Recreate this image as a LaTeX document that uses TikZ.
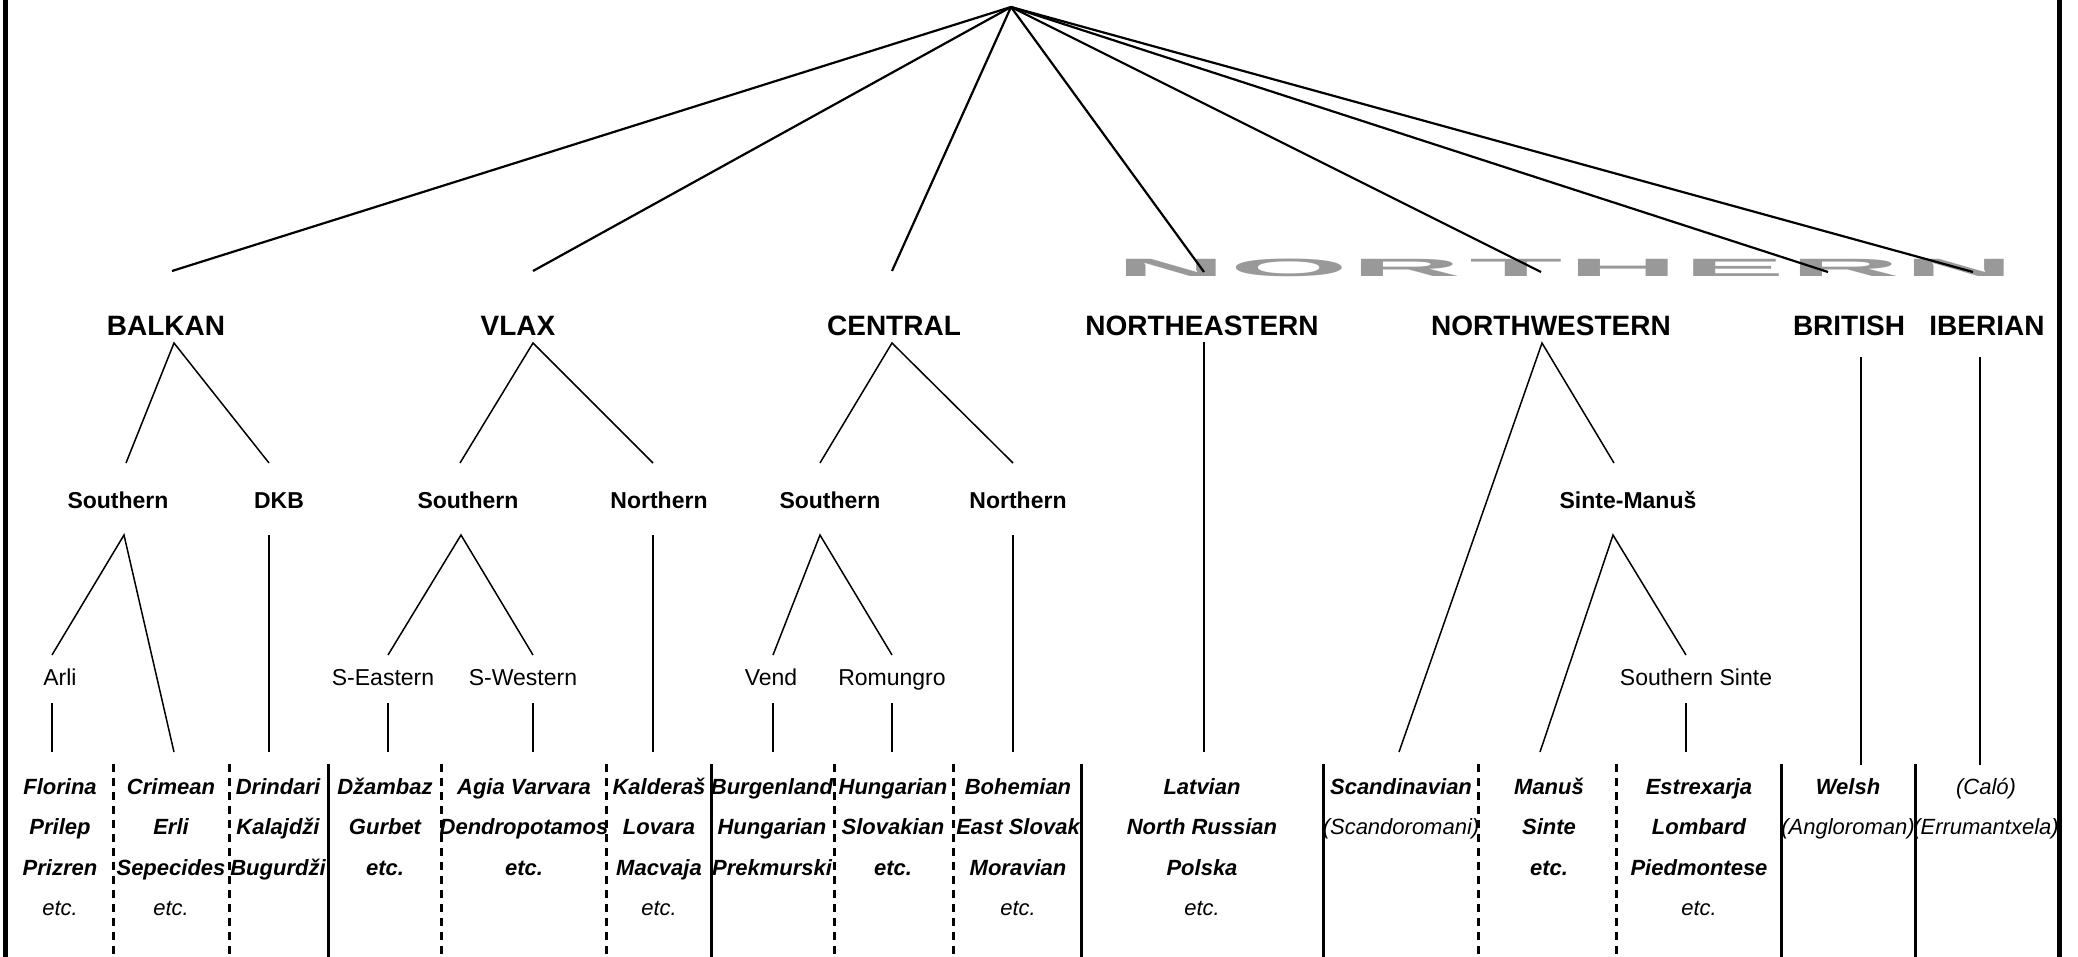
\documentclass[tikz,border=0pt]{standalone}
\usepackage{fontspec}
\setmainfont{Liberation Sans}
\definecolor{northgray}{RGB}{153,153,153}
\begin{document}
\begin{tikzpicture}[x=1pt,y=-1pt,
 every node/.style={inner sep=0pt, anchor=base},
 lvlone/.style={font=\fontsize{28}{30}\selectfont\bfseries},
 lvltwo/.style={font=\fontsize{23}{25}\selectfont\bfseries},
 lvlthree/.style={font=\fontsize{23}{25}\selectfont},
 bi/.style={font=\fontsize{22}{24}\selectfont\bfseries\itshape},
 it/.style={font=\fontsize{22}{24}\selectfont\itshape},
 topline/.style={line width=2.2pt},
 branch/.style={line width=1.5pt},
 sepsolid/.style={line width=3pt},
 sepdash/.style={line width=3pt, dash pattern=on 8pt off 6pt},
 frame/.style={line width=5pt},
 ghost/.style={font=\fontsize{25}{27}\selectfont\bfseries, text=northgray, anchor=center, xscale=6.1}
]
\useasboundingbox (0,0) rectangle (2078,957);

% ---- ghost NORTHERN label
\node[ghost] (g1) at (1171,267.5) {N};
\node[ghost] (g2) at (1289,267.5) {O};
\node[ghost] (g3) at (1406,267.5) {R};
\node[ghost] (g4) at (1516,267.5) {T};
\node[ghost] (g5) at (1623,267.5) {H};
\node[ghost] (g6) at (1734,267.5) {E};
\node[ghost] (g7) at (1845,267.5) {R};
\node[ghost] (g8) at (1959,267.5) {N};

% ---- frame
\coordinate (fl1) at (5.5,0); \coordinate (fl2) at (5.5,957);
\coordinate (fr1) at (2059.5,0); \coordinate (fr2) at (2059.5,957);
\draw[frame] (fl1) -- (fl2);
\draw[frame] (fr1) -- (fr2);

% ---- level 1
\coordinate (root) at (1011,7);
\node[lvlone] (balkan) at (166,336) {BALKAN};
\node[lvlone] (vlax) at (518,336) {VLAX};
\node[lvlone] (central) at (894,336) {CENTRAL};
\node[lvlone] (ne) at (1202,336) {NORTHEASTERN};
\node[lvlone] (nw) at (1551,336) {NORTHWESTERN};
\node[lvlone] (brit) at (1849,336) {BRITISH};
\node[lvlone] (iber) at (1987,336) {IBERIAN};

\coordinate (balkanT) at (172,271);
\coordinate (vlaxT) at (533,271);
\coordinate (centralT) at (892,271);
\coordinate (neT) at (1204,272);
\coordinate (nwT) at (1541,272);
\coordinate (britT) at (1828,272);
\coordinate (iberT) at (1973,272);
\foreach \t in {balkanT,vlaxT,centralT,neT,nwT,britT,iberT}
  \draw[topline] (root) -- (\t);

% ---- level 2
\node[lvltwo] (bsouth) at (118,508) {Southern};
\node[lvltwo] (dkb) at (279,508) {DKB};
\node[lvltwo] (vsouth) at (468,508) {Southern};
\node[lvltwo] (vnorth) at (659,508) {Northern};
\node[lvltwo] (csouth) at (830,508) {Southern};
\node[lvltwo] (cnorth) at (1018,508) {Northern};
\node[lvltwo] (sinte) at (1628,508) {Sinte-Manuš};

% subtrees of level 1
\coordinate (balkanB) at (174,343);
\coordinate (bsouthT) at (126,463);
\coordinate (dkbT) at (269,463);
\coordinate (vlaxB) at (533,343);
\coordinate (vsouthT) at (460,463);
\coordinate (vnorthT) at (653,463);
\coordinate (centralB) at (892,343);
\coordinate (csouthT) at (820,463);
\coordinate (cnorthT) at (1013,463);
\coordinate (neB) at (1204,342);
\coordinate (neE) at (1204,752);
\coordinate (nwB) at (1542,343);
\coordinate (scandT) at (1399,752);
\coordinate (sinteT) at (1614,463);
\coordinate (britB) at (1861,357);
\coordinate (britE) at (1861,765);
\coordinate (iberB) at (1980,357);
\coordinate (iberE) at (1980,765);

\draw[branch] (bsouthT) -- (balkanB) -- (dkbT);
\draw[branch] (vsouthT) -- (vlaxB) -- (vnorthT);
\draw[branch] (csouthT) -- (centralB) -- (cnorthT);
\draw[branch] (neB) -- (neE);
\draw[branch] (scandT) -- (nwB) -- (sinteT);
\draw[branch] (britB) -- (britE);
\draw[branch] (iberB) -- (iberE);

% ---- level 3
\node[lvlthree] (arli) at (60,685) {Arli};
\node[lvlthree] (seast) at (383,685) {S-Eastern};
\node[lvlthree] (swest) at (523,685) {S-Western};
\node[lvlthree] (vend) at (771,685) {Vend};
\node[lvlthree] (romungro) at (892,685) {Romungro};
\node[lvlthree] (ssinte) at (1696,685) {Southern Sinte};

\coordinate (bsouthB) at (124,535);
\coordinate (arliT) at (52,655);
\coordinate (crimT) at (174,752);
\coordinate (dkbB) at (269,535);
\coordinate (dkbE) at (269,752);
\coordinate (vsouthB) at (461,535);
\coordinate (seastT) at (388,655);
\coordinate (swestT) at (533,655);
\coordinate (vnorthB) at (653,535);
\coordinate (vnorthE) at (653,752);
\coordinate (csouthB) at (820,535);
\coordinate (vendT) at (773,655);
\coordinate (romT) at (892,655);
\coordinate (cnorthB) at (1013,535);
\coordinate (cnorthE) at (1013,752);
\coordinate (sinteB) at (1613,535);
\coordinate (manusT) at (1540,752);
\coordinate (ssinteT) at (1686,655);

\draw[branch] (arliT) -- (bsouthB) -- (crimT);
\draw[branch] (dkbB) -- (dkbE);
\draw[branch] (seastT) -- (vsouthB) -- (swestT);
\draw[branch] (vnorthB) -- (vnorthE);
\draw[branch] (vendT) -- (csouthB) -- (romT);
\draw[branch] (cnorthB) -- (cnorthE);
\draw[branch] (manusT) -- (sinteB) -- (ssinteT);

% level 3 verticals
\foreach \n/\x in {arli/52,seast/388,swest/533,vend/773,rom/892,ssinte/1686}{
  \coordinate (\n V1) at (\x,703);
  \coordinate (\n V2) at (\x,752);
  \draw[branch] (\n V1) -- (\n V2);
}

% ---- table separators
\foreach \x in {113,229,441,606,834,953,1478,1616}{
  \coordinate (dA\x) at (\x,764);
  \coordinate (dB\x) at (\x,957);
  \draw[sepdash] (dA\x) -- (dB\x);
}
\foreach \x in {328,711,1081,1323,1781,1915}{
  \coordinate (sA\x) at (\x,764);
  \coordinate (sB\x) at (\x,957);
  \draw[sepsolid] (sA\x) -- (sB\x);
}

% ---- table cells
% col 1
\node[bi] (c1a) at (60,794) {Florina};
\node[bi] (c1b) at (60,834.5) {Prilep};
\node[bi] (c1c) at (60,875) {Prizren};
\node[it] (c1d) at (60,915.5) {etc.};
% col 2
\node[bi] (c2a) at (171,794) {Crimean};
\node[bi] (c2b) at (171,834.5) {Erli};
\node[bi] (c2c) at (171,875) {Sepecides};
\node[it] (c2d) at (171,915.5) {etc.};
% col 3
\node[bi] (c3a) at (278,794) {Drindari};
\node[bi] (c3b) at (278,834.5) {Kalajdži};
\node[bi] (c3c) at (278,875) {Bugurdži};
% col 4
\node[bi] (c4a) at (385,794) {Džambaz};
\node[bi] (c4b) at (385,834.5) {Gurbet};
\node[bi] (c4c) at (385,875) {etc.};
% col 5
\node[bi] (c5a) at (524,794) {Agia Varvara};
\node[bi] (c5b) at (524,834.5) {Dendropotamos};
\node[bi] (c5c) at (524,875) {etc.};
% col 6
\node[bi] (c6a) at (659,794) {Kalderaš};
\node[bi] (c6b) at (659,834.5) {Lovara};
\node[bi] (c6c) at (659,875) {Macvaja};
\node[it] (c6d) at (659,915.5) {etc.};
% col 7
\node[bi] (c7a) at (772,794) {Burgenland};
\node[bi] (c7b) at (772,834.5) {Hungarian};
\node[bi] (c7c) at (772,875) {Prekmurski};
% col 8
\node[bi] (c8a) at (893,794) {Hungarian};
\node[bi] (c8b) at (893,834.5) {Slovakian};
\node[bi] (c8c) at (893,875) {etc.};
% col 9
\node[bi] (c9a) at (1018,794) {Bohemian};
\node[bi] (c9b) at (1018,834.5) {East Slovak};
\node[bi] (c9c) at (1018,875) {Moravian};
\node[it] (c9d) at (1018,915.5) {etc.};
% col 10
\node[bi] (c10a) at (1202,794) {Latvian};
\node[bi] (c10b) at (1202,834.5) {North Russian};
\node[bi] (c10c) at (1202,875) {Polska};
\node[it] (c10d) at (1202,915.5) {etc.};
% col 11
\node[bi] (c11a) at (1401,794) {Scandinavian};
\node[it] (c11b) at (1401,834.5) {(Scandoromani)};
% col 12
\node[bi] (c12a) at (1549,794) {Manuš};
\node[bi] (c12b) at (1549,834.5) {Sinte};
\node[bi] (c12c) at (1549,875) {etc.};
% col 13
\node[bi] (c13a) at (1699,794) {Estrexarja};
\node[bi] (c13b) at (1699,834.5) {Lombard};
\node[bi] (c13c) at (1699,875) {Piedmontese};
\node[it] (c13d) at (1699,915.5) {etc.};
% col 14
\node[bi] (c14a) at (1848,794) {Welsh};
\node[it] (c14b) at (1848,834.5) {(Angloroman)};
% col 15
\node[it] (c15a) at (1986,794) {(Caló)};
\node[it] (c15b) at (1986,834.5) {(Errumantxela)};
\end{tikzpicture}
\end{document}
